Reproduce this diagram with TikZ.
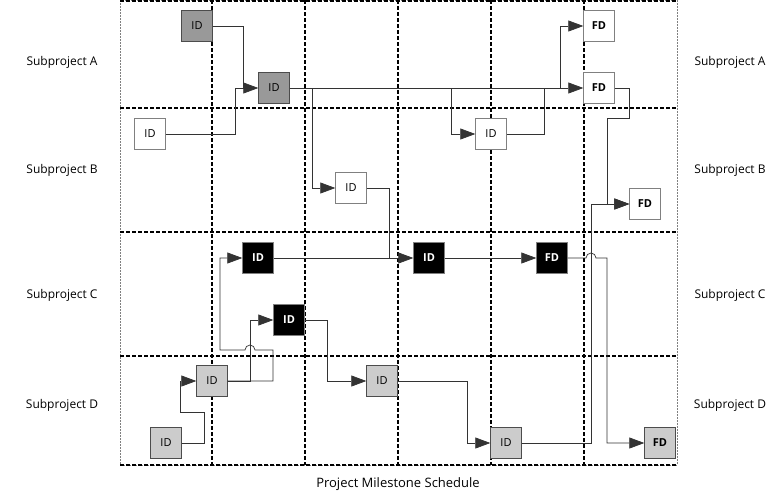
\documentclass[tikz,border=0pt]{standalone}
\usepackage{fontspec}
\setmainfont{Open Sans}
\usetikzlibrary{arrows.meta}

\tikzset{
    ms/.style={draw=gray, minimum size=31pt, inner sep=0pt, font=\fontsize{11}{11}\selectfont},
    idA/.style={ms, fill=black!40!white, draw=black!70},
    idW/.style={ms, fill=white},
    idC/.style={ms, fill=black, text=white, font=\fontsize{11}{11}\selectfont\bfseries},
    idD/.style={ms, fill=black!20, draw=black!70},
    fdW/.style={idW, font=\fontsize{11}{11}\selectfont\bfseries},
    grid/.style={line width=1.3pt, dash pattern=on 4pt off 2pt},
    link/.style={line width=0.7pt, draw=black!80},
    arr/.style={link, -{Triangle[length=15pt,width=11pt]}},
    lbl/.style={font=\fontsize{12}{12}\selectfont}
}

\begin{document}
\begin{tikzpicture}[x=1pt, y=-1pt]
    \useasboundingbox (0,0) rectangle (782,496);

    % grid
    \draw[gray, line width=0.7pt, dash pattern=on 2pt off 1pt] (120,0) rectangle (677,465);
    \foreach \x in {212,305,398,491,584}
        \draw[grid] (\x,0) -- (\x,465);
    \foreach \y in {1,108,232,356,465}
        \draw[grid] (120,\y) -- (677,\y);

    % row labels
    \foreach \r/\y in {A/62, B/170, C/295, D/405} {
        \node[lbl] (l\r) at (62,\y) {Subproject \r};
        \node[lbl] (r\r) at (730,\y) {Subproject \r};
    }
    \node[lbl, font=\fontsize{13}{13}\selectfont] (title) at (398,484) {Project Milestone Schedule};

    % milestones
    \node[idA] (a1) at (197,26) {ID};
    \node[idA] (a2) at (274,88) {ID};
    \node[fdW] (fa1) at (599,26) {FD};
    \node[fdW] (fa2) at (599,88) {FD};

    \node[idW] (b1) at (150,134) {ID};
    \node[idW] (b2) at (491,134) {ID};
    \node[idW] (b3) at (351,188) {ID};
    \node[fdW] (fb) at (645,204) {FD};

    \node[idC] (c1) at (258,258) {ID};
    \node[idC] (c2) at (429,258) {ID};
    \node[idC] (c3) at (552,258) {FD};
    \node[idC] (c4) at (289,320) {ID};

    \node[idD] (d1) at (212,381) {ID};
    \node[idD] (d2) at (382,381) {ID};
    \node[idD] (d3) at (506,443) {ID};
    \node[idD] (d5) at (166,443) {ID};
    \node[idD, font=\fontsize{11}{11}\selectfont\bfseries] (fd) at (660,443) {FD};

    % dependencies
    \draw[arr] (a1.east) -| (243,88) -- (a2.west);
    \draw[link] (b1.east) -| (235,88) -- (243,88);
    \draw[arr] (a2.east) -- (fa2.west);
    \draw[arr] (312,88) |- (b3.west);
    \draw[arr] (451,88) |- (b2.west);
    \draw[link] (b2.east) -| (544,88);
    \draw[arr] (560,88) |- (fa1.west);
    \draw[arr] (fa2.east) -| (629,118) -| (607,204) -- (fb.west);
    \draw[link] (b3.east) -| (389,258);
    \draw[arr] (c1.east) -- (c2.west);
    \draw[arr] (c2.east) -- (c3.west);
    \draw[arr] (c3.east) -- (586,258) arc (180:360:5) -| (607,443) -- (fd.west);
    \draw[arr] (d3.east) -| (591,204) -- (fb.west);
    \draw[arr] (d5.east) -| (204,412) -| (180,381) -- (d1.west);
    \draw[arr] (d1.east) -| (250,320) -- (c4.west);
    \draw[arr] (d1.east) -| (273,350) -- (255,350) arc (360:180:5) -| (220,258) -- (c1.west);
    \draw[arr] (c4.east) -| (327,381) -- (d2.west);
    \draw[arr] (d2.east) -| (467,443) -- (d3.west);
\end{tikzpicture}
\end{document}
